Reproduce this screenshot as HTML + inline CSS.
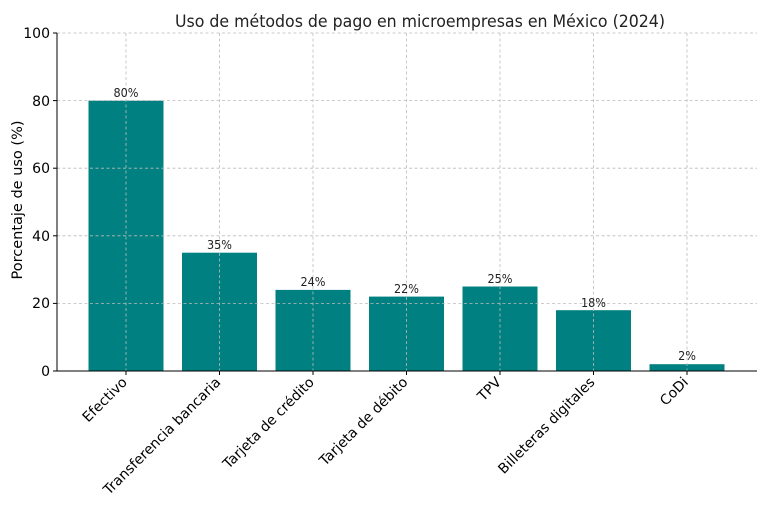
<!DOCTYPE html>
<html><head><meta charset="utf-8"><style>body{margin:0;background:#fff}</style></head><body>
<svg width="768" height="512" xmlns="http://www.w3.org/2000/svg" font-family="DejaVu Sans, Liberation Sans, sans-serif">
<rect width="768" height="512" fill="#fff"/>
<text x="420" y="27" text-anchor="middle" font-size="17" font-family="DejaVu Sans Condensed, DejaVu Sans, sans-serif" fill="#222" textLength="490" lengthAdjust="spacingAndGlyphs">Uso de métodos de pago en microempresas en México (2024)</text>
<g fill="#008080">
<rect x="88.5" y="100.6" width="75" height="270.4"/>
<rect x="182" y="252.7" width="75" height="118.3"/>
<rect x="275.5" y="289.9" width="75" height="81.1"/>
<rect x="369" y="296.6" width="75" height="74.4"/>
<rect x="462.5" y="286.5" width="75" height="84.5"/>
<rect x="556" y="310.2" width="75" height="60.8"/>
<rect x="649.5" y="364.2" width="75" height="6.8"/>
</g>
<g stroke="#bbb" stroke-width="0.8" stroke-dasharray="3,2.5" fill="none">
<line x1="57" x2="757" y1="33" y2="33"/><line x1="57" x2="757" y1="100.6" y2="100.6"/><line x1="57" x2="757" y1="168.2" y2="168.2"/><line x1="57" x2="757" y1="235.8" y2="235.8"/><line x1="57" x2="757" y1="303.4" y2="303.4"/>
<line x1="126" x2="126" y1="33" y2="371"/><line x1="219.5" x2="219.5" y1="33" y2="371"/><line x1="313" x2="313" y1="33" y2="371"/><line x1="406.5" x2="406.5" y1="33" y2="371"/><line x1="500" x2="500" y1="33" y2="371"/><line x1="593.5" x2="593.5" y1="33" y2="371"/><line x1="687" x2="687" y1="33" y2="371"/>
</g>
<g stroke="#000" stroke-width="1">
<line x1="57" x2="57" y1="33" y2="371"/><line x1="57" x2="757" y1="371" y2="371"/>
<line x1="53" x2="57" y1="33" y2="33"/><line x1="53" x2="57" y1="100.6" y2="100.6"/><line x1="53" x2="57" y1="168.2" y2="168.2"/><line x1="53" x2="57" y1="235.8" y2="235.8"/><line x1="53" x2="57" y1="303.4" y2="303.4"/><line x1="53" x2="57" y1="371" y2="371"/>
<line x1="126" x2="126" y1="371" y2="375"/><line x1="219.5" x2="219.5" y1="371" y2="375"/><line x1="313" x2="313" y1="371" y2="375"/><line x1="406.5" x2="406.5" y1="371" y2="375"/><line x1="500" x2="500" y1="371" y2="375"/><line x1="593.5" x2="593.5" y1="371" y2="375"/><line x1="687" x2="687" y1="371" y2="375"/>
</g>
<g font-size="14" text-anchor="end" fill="#000">
<text x="50" y="38">100</text><text x="50" y="106">80</text><text x="50" y="173">60</text><text x="50" y="241">40</text><text x="50" y="308">20</text><text x="50" y="376">0</text>
</g>
<text transform="translate(22,200) rotate(-90)" text-anchor="middle" font-size="14.5">Porcentaje de uso (%)</text>
<g font-size="12.5" text-anchor="middle" fill="#222" font-family="DejaVu Sans Condensed, DejaVu Sans, sans-serif">
<text x="126" y="97">80%</text><text x="219.5" y="249">35%</text><text x="313" y="286">24%</text><text x="406.5" y="293">22%</text><text x="500" y="283">25%</text><text x="593.5" y="307">18%</text><text x="687" y="360">2%</text>
</g>
<g font-size="14" text-anchor="end" fill="#000">
<text transform="translate(128,383) rotate(-45)">Efectivo</text>
<text transform="translate(221.5,383) rotate(-45)">Transferencia bancaria</text>
<text transform="translate(315,383) rotate(-45)">Tarjeta de crédito</text>
<text transform="translate(408.5,383) rotate(-45)">Tarjeta de débito</text>
<text transform="translate(502,383) rotate(-45)">TPV</text>
<text transform="translate(595.5,383) rotate(-45)">Billeteras digitales</text>
<text transform="translate(689,383) rotate(-45)">CoDi</text>
</g>
</svg>
</body></html>
